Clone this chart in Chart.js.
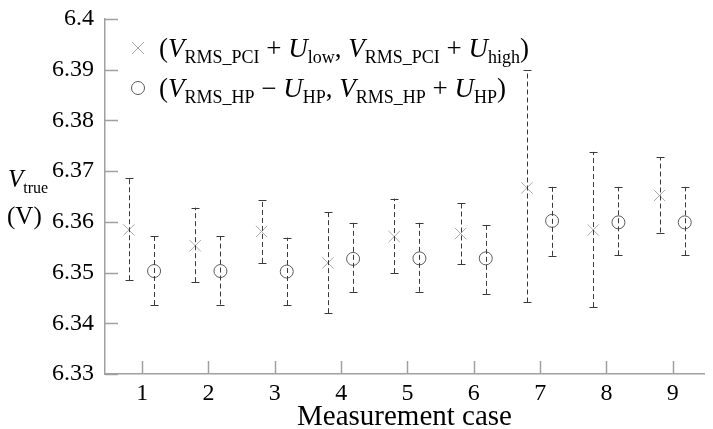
<!DOCTYPE html>
<html>
<head>
<meta charset="utf-8">
<script src="https://cdn.jsdelivr.net/npm/chart.js@4.4.0/dist/chart.umd.min.js"></script>
<style>
  html, body { margin: 0; padding: 0; background: #fff; }
  #wrap { width: 713px; height: 429px; }
</style>
</head>
<body>
<div id="wrap"><canvas id="chart" width="713" height="429"></canvas></div>
<script>
// Measurement cases and tick values
const caseNumbers = [1, 2, 3, 4, 5, 6, 7, 8, 9];
const yTickValues = [6.33, 6.34, 6.35, 6.36, 6.37, 6.38, 6.39, 6.4];

// PCI series: centre, lower bound, upper bound
const pciCenter = [6.3584, 6.3553, 6.3581, 6.3519, 6.3571, 6.3577, 6.3667, 6.3584, 6.3652];
const pciLow    = [6.3485, 6.3481, 6.3519, 6.3420, 6.3499, 6.3516, 6.3441, 6.3432, 6.3579];
const pciHigh   = [6.3687, 6.3628, 6.3643, 6.3620, 6.3646, 6.3638, 6.3899, 6.3738, 6.3727];

// HP series: centre, lower bound, upper bound
const hpCenter = [6.3503, 6.3503, 6.3502, 6.3527, 6.3528, 6.3528, 6.3602, 6.3599, 6.3599];
const hpLow    = [6.3436, 6.3437, 6.3436, 6.3462, 6.3462, 6.3458, 6.3533, 6.3534, 6.3534];
const hpHigh   = [6.3572, 6.3572, 6.3569, 6.3598, 6.3598, 6.3594, 6.3669, 6.3669, 6.3669];

const PCI_SHIFT = -0.2;
const HP_SHIFT = 0.18;

const FONT = "'Liberation Serif', 'DejaVu Serif', serif";
const AXIS_COLOR = '#a0a0a0';
const CROSS_COLOR = '#a8a8a8';
const CIRCLE_COLOR = '#5a5a5a';
const BAR_COLOR = '#3a3a3a';

// Draw a run of text pieces: n = normal, i = italic, s = subscript
function drawRich(ctx, x, y, parts, size) {
    parts.forEach(p => {
        const sub = p[0] === 's';
        const fs = sub ? Math.round(size * 0.65) : size;
        ctx.font = (p[0] === 'i' ? 'italic ' : '') + fs + 'px ' + FONT;
        ctx.fillText(p[1], x, sub ? y + size * 0.22 : y);
        x += ctx.measureText(p[1]).width;
    });
    return x;
}

const errorBars = {
    id: 'errorBars',
    afterDatasetsDraw(chart) {
        const ctx = chart.ctx;
        const xs = chart.scales.x, ys = chart.scales.y;
        ctx.save();
        ctx.strokeStyle = BAR_COLOR;
        ctx.lineWidth = 1;
        const draw = (shift, lows, highs) => {
            caseNumbers.forEach((c, i) => {
                const px = Math.round(xs.getPixelForValue(c + shift)) + 0.5;
                const y1 = ys.getPixelForValue(lows[i]);
                const y2 = ys.getPixelForValue(highs[i]);
                ctx.setLineDash([5, 3]);
                ctx.beginPath();
                ctx.moveTo(px, y1);
                ctx.lineTo(px, y2);
                ctx.stroke();
                ctx.setLineDash([]);
                ctx.beginPath();
                ctx.moveTo(px - 4, Math.round(y1) + 0.5);
                ctx.lineTo(px + 4, Math.round(y1) + 0.5);
                ctx.moveTo(px - 4, Math.round(y2) + 0.5);
                ctx.lineTo(px + 4, Math.round(y2) + 0.5);
                ctx.stroke();
            });
        };
        draw(PCI_SHIFT, pciLow, pciHigh);
        draw(HP_SHIFT, hpLow, hpHigh);
        ctx.restore();
    }
};

const decorations = {
    id: 'decorations',
    afterDraw(chart) {
        const ctx = chart.ctx;
        const xs = chart.scales.x, ys = chart.scales.y;
        const area = chart.chartArea;
        ctx.save();

        // inward tick marks
        ctx.strokeStyle = AXIS_COLOR;
        ctx.lineWidth = 1.5;
        ctx.beginPath();
        xs.ticks.forEach(t => {
            const px = Math.round(xs.getPixelForValue(t.value)) + 0.5;
            ctx.moveTo(px, area.bottom);
            ctx.lineTo(px, area.bottom - 13);
        });
        ys.ticks.forEach(t => {
            const py = Math.round(ys.getPixelForValue(t.value)) + 0.5;
            ctx.moveTo(area.left, py);
            ctx.lineTo(area.left + 13, py);
        });
        ctx.stroke();

        // y axis title
        ctx.fillStyle = '#000';
        ctx.textBaseline = 'alphabetic';
        ctx.textAlign = 'left';
        drawRich(ctx, 8, 187, [['i', 'V'], ['s', 'true']], 25);
        drawRich(ctx, 7, 224, [['n', '(V)']], 25);

        // legend
        const lx = 138;
        ctx.strokeStyle = CROSS_COLOR;
        ctx.lineWidth = 1;
        ctx.beginPath();
        ctx.moveTo(lx - 6, 42); ctx.lineTo(lx + 6, 54);
        ctx.moveTo(lx + 6, 42); ctx.lineTo(lx - 6, 54);
        ctx.stroke();
        ctx.strokeStyle = CIRCLE_COLOR;
        ctx.beginPath();
        ctx.arc(lx, 88, 6.5, 0, Math.PI * 2);
        ctx.stroke();
        ctx.fillStyle = '#000';
        drawRich(ctx, 159, 57, [
            ['n', '('], ['i', 'V'], ['s', 'RMS_PCI'], ['n', ' + '], ['i', 'U'], ['s', 'low'],
            ['n', ', '], ['i', 'V'], ['s', 'RMS_PCI'], ['n', ' + '], ['i', 'U'], ['s', 'high'], ['n', ')']
        ], 27);
        drawRich(ctx, 159, 97, [
            ['n', '('], ['i', 'V'], ['s', 'RMS_HP'], ['n', ' \u2212 '], ['i', 'U'], ['s', 'HP'],
            ['n', ', '], ['i', 'V'], ['s', 'RMS_HP'], ['n', ' + '], ['i', 'U'], ['s', 'HP'], ['n', ')']
        ], 27);
        ctx.restore();
    }
};

const ctx = document.getElementById('chart').getContext('2d');
new Chart(ctx, {
    type: 'scatter',
    data: {
        datasets: [
            {
                label: 'PCI',
                data: caseNumbers.map((c, i) => ({ x: c + PCI_SHIFT, y: pciCenter[i] })),
                pointStyle: 'crossRot',
                pointRadius: 8,
                borderColor: CROSS_COLOR,
                backgroundColor: CROSS_COLOR,
                borderWidth: 1
            },
            {
                label: 'HP',
                data: caseNumbers.map((c, i) => ({ x: c + HP_SHIFT, y: hpCenter[i] })),
                pointStyle: 'circle',
                pointRadius: 6.5,
                borderColor: CIRCLE_COLOR,
                backgroundColor: 'rgba(0,0,0,0)',
                borderWidth: 1
            }
        ]
    },
    options: {
        responsive: false,
        animation: false,
        layout: { padding: { top: 19, right: 0, left: 0, bottom: 0 } },
        plugins: {
            legend: { display: false },
            tooltip: { enabled: false }
        },
        scales: {
            x: {
                type: 'linear',
                min: 0.44,
                max: 9.47,
                afterBuildTicks: (s) => { s.ticks = caseNumbers.map(v => ({ value: v })); },
                afterFit: (s) => { s.height = 55; },
                grid: { display: false, drawTicks: false },
                border: { display: true, color: AXIS_COLOR, width: 1.5 },
                ticks: {
                    color: '#000',
                    font: { family: FONT, size: 24 },
                    padding: 5
                },
                title: {
                    display: true,
                    text: 'Measurement case',
                    color: '#000',
                    font: { family: FONT, size: 29 },
                    padding: { top: 0, bottom: -6 }
                }
            },
            y: {
                min: 6.33,
                max: 6.4,
                afterBuildTicks: (s) => { s.ticks = yTickValues.map(v => ({ value: v })); },
                afterFit: (s) => { s.width = 105; },
                grid: { display: false, drawTicks: false },
                border: { display: true, color: AXIS_COLOR, width: 1.5 },
                ticks: {
                    color: '#000',
                    font: { family: FONT, size: 24, lineHeight: 0.65 },
                    padding: 11,
                    callback: (v) => String(Number(v.toFixed(2)))
                }
            }
        }
    },
    plugins: [errorBars, decorations]
});
</script>
</body>
</html>
